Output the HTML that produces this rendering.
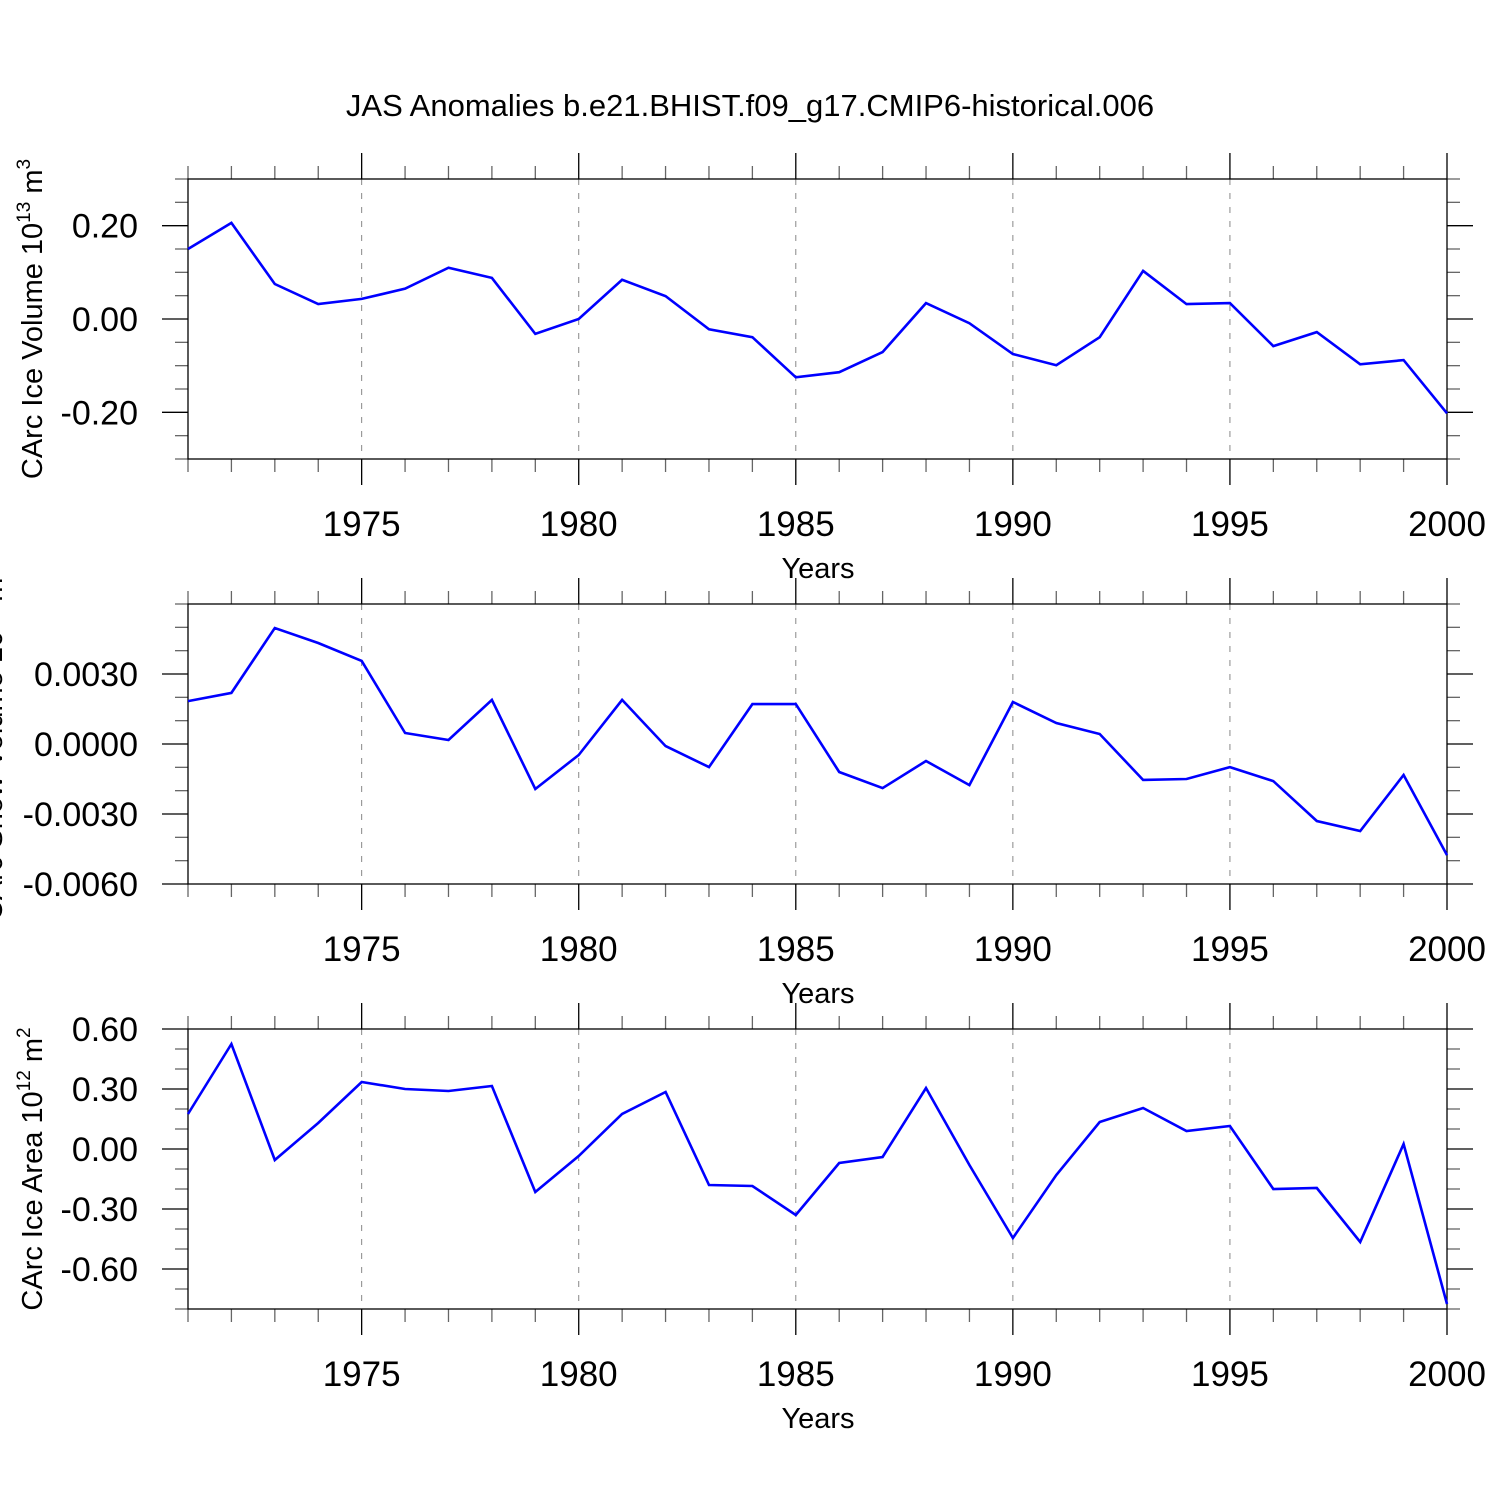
<!DOCTYPE html>
<html><head><meta charset="utf-8"><style>
html,body{margin:0;padding:0;background:#fff}
svg{display:block;font-family:"Liberation Sans",sans-serif}
</style></head><body>
<svg id="chart" width="1500" height="1500" viewBox="0 0 1500 1500" xmlns="http://www.w3.org/2000/svg">
<rect width="1500" height="1500" fill="#fff"/>
<text x="750" y="116" font-size="31" text-anchor="middle">JAS Anomalies b.e21.BHIST.f09_g17.CMIP6-historical.006</text>
<g id="plots"></g>
</svg>
<script>
const years = [1971,1972,1973,1974,1975,1976,1977,1978,1979,1980,1981,1982,1983,1984,1985,1986,1987,1988,1989,1990,1991,1992,1993,1994,1995,1996,1997,1998,1999,2000];
const iceVolume = [0.150,0.206,0.075,0.032,0.043,0.065,0.110,0.088,-0.032,0.0,0.084,0.049,-0.022,-0.039,-0.125,-0.114,-0.071,0.034,-0.009,-0.075,-0.099,-0.039,0.103,0.032,0.034,-0.058,-0.028,-0.097,-0.088,-0.202];
const snowVolume = [0.00184,0.00219,0.00497,0.00433,0.00356,0.00047,0.00017,0.00189,-0.00193,-0.00047,0.00189,-0.00009,-0.00099,0.00171,0.00171,-0.0012,-0.00189,-0.00073,-0.00176,0.0018,0.0009,0.00043,-0.00154,-0.0015,-0.00099,-0.00159,-0.0033,-0.00373,-0.00133,-0.00476];
const iceArea = [0.175,0.525,-0.055,0.13,0.335,0.30,0.29,0.315,-0.215,-0.035,0.175,0.285,-0.18,-0.185,-0.33,-0.07,-0.04,0.305,-0.08,-0.445,-0.13,0.135,0.205,0.09,0.115,-0.2,-0.195,-0.465,0.025,-0.775];
const xTickYears = [1975,1980,1985,1990,1995,2000];
const volTicks = [0.2,0.0,-0.2];
const volTickLabels = ["0.20","0.00","-0.20"];
const snowTicks = [0.003,0.0,-0.003,-0.006];
const snowTickLabels = ["0.0030","0.0000","-0.0030","-0.0060"];
const areaTicks = [0.6,0.3,0.0,-0.3,-0.6];
const areaTickLabels = ["0.60","0.30","0.00","-0.30","-0.60"];

const NS="http://www.w3.org/2000/svg";
const root=document.getElementById('plots');
function mk(tag,attrs,parent){const e=document.createElementNS(NS,tag);for(const k in attrs)e.setAttribute(k,attrs[k]);(parent||root).appendChild(e);return e;}
const X0=188,X1=1447;
const xs=y=>X0+(y-1971)*(X1-X0)/29;

const panels=[
 {name:'ice-volume',top:179,min:-0.3,max:0.3,data:iceVolume,ticks:volTicks,labels:volTickLabels,minor:0.05,title:['CArc Ice Volume 10','13',' m','3'],tx:42},
 {name:'snow-volume',top:604,min:-0.006,max:0.006,data:snowVolume,ticks:snowTicks,labels:snowTickLabels,minor:0.001,title:['CArc Snow Volume 10','13',' m','3'],tx:2},
 {name:'ice-area',top:1029,min:-0.8,max:0.6,data:iceArea,ticks:areaTicks,labels:areaTickLabels,minor:0.1,title:['CArc Ice Area 10','12',' m','2'],tx:42}
];
panels.forEach(p=>{
 const H=280,bot=p.top+H;
 const ys=v=>bot-(v-p.min)/(p.max-p.min)*H;
 const g=mk('g',{});
 
 
 xTickYears.forEach(yr=>{ if(yr<2000){const l=mk('line',{x1:xs(yr),x2:xs(yr),y1:p.top,y2:bot,stroke:'#888','stroke-width':1,'stroke-dasharray':'6,8'},g);
 
 }});
 years.forEach(yr=>{const maj=yr%5===0;const len=maj?26:13;const c=maj?'#000':'#666';
  mk('line',{x1:xs(yr),x2:xs(yr),y1:p.top,y2:p.top-len,stroke:c,'stroke-width':1.3},g);
  mk('line',{x1:xs(yr),x2:xs(yr),y1:bot,y2:bot+len,stroke:c,'stroke-width':1.3},g);});
 xTickYears.forEach(yr=>{const t=mk('text',{x:xs(yr),y:bot+77,'font-size':35,'text-anchor':'middle'},g);t.textContent=yr;
  
  });
 const xt=mk('text',{x:818,y:bot+119,'font-size':29,'text-anchor':'middle'},g);xt.textContent='Years';
 
 
 const n=Math.round((p.max-p.min)/p.minor);
 for(let i=0;i<=n;i++){const v=p.min+i*p.minor;const yy=ys(v);
  const isMaj=p.ticks.some(t=>Math.abs(t-v)<p.minor/10);const len=isMaj?26:13;const c=isMaj?'#000':'#666';
  mk('line',{x1:X0,x2:X0-len,y1:yy,y2:yy,stroke:c,'stroke-width':1.3},g);
  mk('line',{x1:X1,x2:X1+len,y1:yy,y2:yy,stroke:c,'stroke-width':1.3},g);}
 p.ticks.forEach((v,i)=>{const t=mk('text',{x:138,y:ys(v)+12,'font-size':34,'text-anchor':'end'},g);t.textContent=p.labels[i];
  
  });
 const fr=mk('rect',{x:X0,y:p.top,width:X1-X0,height:H,fill:'none',stroke:'#000','stroke-width':1.3},g);
 
 
 const cy=p.top+H/2;
 const yt=mk('text',{x:0,y:0,'font-size':29,'text-anchor':'middle',transform:`translate(${p.tx},${cy}) rotate(-90)`},g);
 
 
 p.title.forEach((s,i)=>{const ts=mk('tspan',{},yt);ts.textContent=s;if(i%2===1){ts.setAttribute('font-size','19');ts.setAttribute('dy','-12');}else if(i>0){ts.setAttribute('dy','12');}});
 const pts=p.data.map((v,i)=>xs(years[i]).toFixed(1)+','+ys(v).toFixed(1)).join(' ');
 const pl=mk('polyline',{points:pts,fill:'none',stroke:'#0000ff','stroke-width':2.6,'stroke-linejoin':'miter'},g);
 
 
});
</script>
</body></html>
